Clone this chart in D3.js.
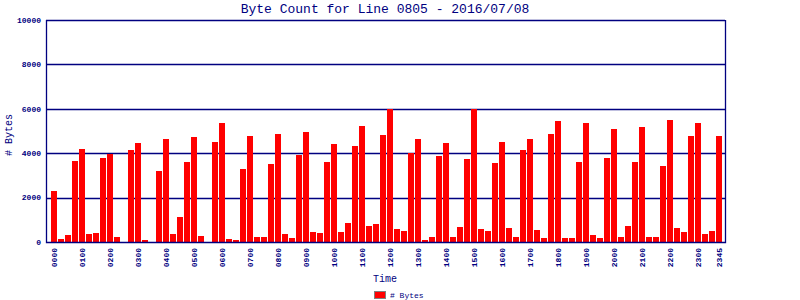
<!DOCTYPE html>
<html>
<head>
<meta charset="utf-8">
<script src="https://cdn.jsdelivr.net/npm/d3@7"></script>
<style>
    body { margin: 0; background: #fff; }
    svg { display: block; }
    text { font-family: "Liberation Mono", "DejaVu Sans Mono", monospace; fill: #000080; }
</style>
</head>
<body>
<div id="chart"></div>
<script>
(function byteCountChart() {
    'use strict';

    /* data */

    // 15 minute slots, 0000 .. 2345
    var times = d3.range(96).map(function (i) {
        return d3.format('02d')(Math.floor(i / 4)) + d3.format('02d')((i % 4) * 15);
    });

    var byteCounts = [
        2300, 150, 320, 3650, 4180, 360, 400, 3780, 3980, 240, 0, 4130,
        4450, 100, 0, 3200, 4630, 360, 1130, 3590, 4720, 270, 0, 4500,
        5350, 150, 100, 3290, 4760, 230, 230, 3510, 4850, 360, 180, 3910,
        4940, 450, 400, 3600, 4410, 450, 860, 4320, 5220, 720, 810, 4810,
        5990, 580, 500, 4000, 4630, 90, 230, 3870, 4450, 230, 680, 3730,
        5990, 580, 500, 3560, 4500, 630, 230, 4130, 4630, 540, 180, 4850,
        5440, 180, 180, 3600, 5350, 310, 180, 3780, 5080, 230, 720, 3600,
        5170, 230, 230, 3420, 5480, 630, 450, 4760, 5350, 360, 500, 4760
    ];

    var xTickLabels = [
        '0000', '0100', '0200', '0300', '0400', '0500', '0600', '0700',
        '0800', '0900', '1000', '1100', '1200', '1300', '1400', '1500',
        '1600', '1700', '1800', '1900', '2000', '2100', '2200', '2300', '2345'
    ];

    var yTickValues = [0, 2000, 4000, 6000, 8000, 10000];

    /* layout */

    var width = 800, height = 300;
    var plot = { left: 46, right: 725, top: 20, bottom: 242 };
    var navy = '#000080';

    var svg = d3.select('#chart').append('svg')
        .attr('width', width)
        .attr('height', height)
    ;

    /* scales */

    var x = d3.scaleBand()
        .domain(times)
        .range([50.5, 722.5])
        .paddingInner(1 / 7)
        .paddingOuter(1 / 14)
    ;

    var y = d3.scaleLinear()
        .domain([0, 10000])
        .range([plot.bottom, plot.top])
    ;

    /* title */

    svg.append('text')
        .attr('x', 385)
        .attr('y', 13)
        .attr('text-anchor', 'middle')
        .style('font-size', '13px')
        .text('Byte Count for Line 0805 - 2016/07/08')
    ;

    /* grid lines */

    svg.append('g')
        .selectAll('line')
        .data(yTickValues.slice(1))
        .enter()
        .append('line')
        .attr('x1', plot.left)
        .attr('x2', plot.right)
        .attr('y1', function (d) { return Math.round(y(d)) + 0.5; })
        .attr('y2', function (d) { return Math.round(y(d)) + 0.5; })
        .attr('stroke', navy)
        .attr('stroke-width', 1.3)
    ;

    /* bars */

    svg.append('g')
        .selectAll('rect')
        .data(byteCounts)
        .enter()
        .append('rect')
        .attr('x', function (d, i) { return x(times[i]); })
        .attr('y', function (d) { return y(d); })
        .attr('width', x.bandwidth())
        .attr('height', function (d) { return plot.bottom - y(d); })
        .attr('fill', '#ff0000')
        .attr('shape-rendering', 'crispEdges')
    ;

    /* frame: left, right, bottom */

    var frame = svg.append('g')
        .attr('stroke', navy)
        .attr('stroke-width', 1.3)
        .attr('fill', 'none')
    ;
    frame.append('path')
        .attr('d', 'M' + (plot.left + 0.5) + ',' + plot.top +
            'V' + (plot.bottom + 0.5) +
            'H' + (plot.right + 0.5) +
            'V' + plot.top)
    ;

    /* y axis labels */

    svg.append('g')
        .selectAll('text')
        .data(yTickValues)
        .enter()
        .append('text')
        .attr('x', 41)
        .attr('y', function (d) { return y(d); })
        .attr('dy', '0.35em')
        .attr('text-anchor', 'end')
        .style('font-size', '8px')
        .style('font-weight', 'bold')
        .text(function (d) { return d; })
    ;

    svg.append('text')
        .attr('transform', 'translate(12,135) rotate(-90)')
        .attr('text-anchor', 'middle')
        .style('font-size', '10px')
        .text('# Bytes')
    ;

    /* x axis labels */

    svg.append('g')
        .selectAll('text')
        .data(xTickLabels)
        .enter()
        .append('text')
        .attr('transform', function (d) {
            var cx = x(d) + x.bandwidth() / 2;
            return 'translate(' + (cx + 3) + ',248) rotate(-90)';
        })
        .attr('text-anchor', 'end')
        .style('font-size', '8px')
        .style('font-weight', 'bold')
        .text(function (d) { return d; })
    ;

    svg.append('text')
        .attr('x', 385)
        .attr('y', 282)
        .attr('text-anchor', 'middle')
        .style('font-size', '10px')
        .text('Time')
    ;

    /* legend */

    svg.append('rect')
        .attr('x', 374.5)
        .attr('y', 291.5)
        .attr('width', 11)
        .attr('height', 7)
        .attr('fill', '#ff0000')
        .attr('stroke', '#808080')
    ;

    svg.append('text')
        .attr('x', 390)
        .attr('y', 298)
        .style('font-size', '8px')
        .text('# Bytes')
    ;
})();
</script>
</body>
</html>
